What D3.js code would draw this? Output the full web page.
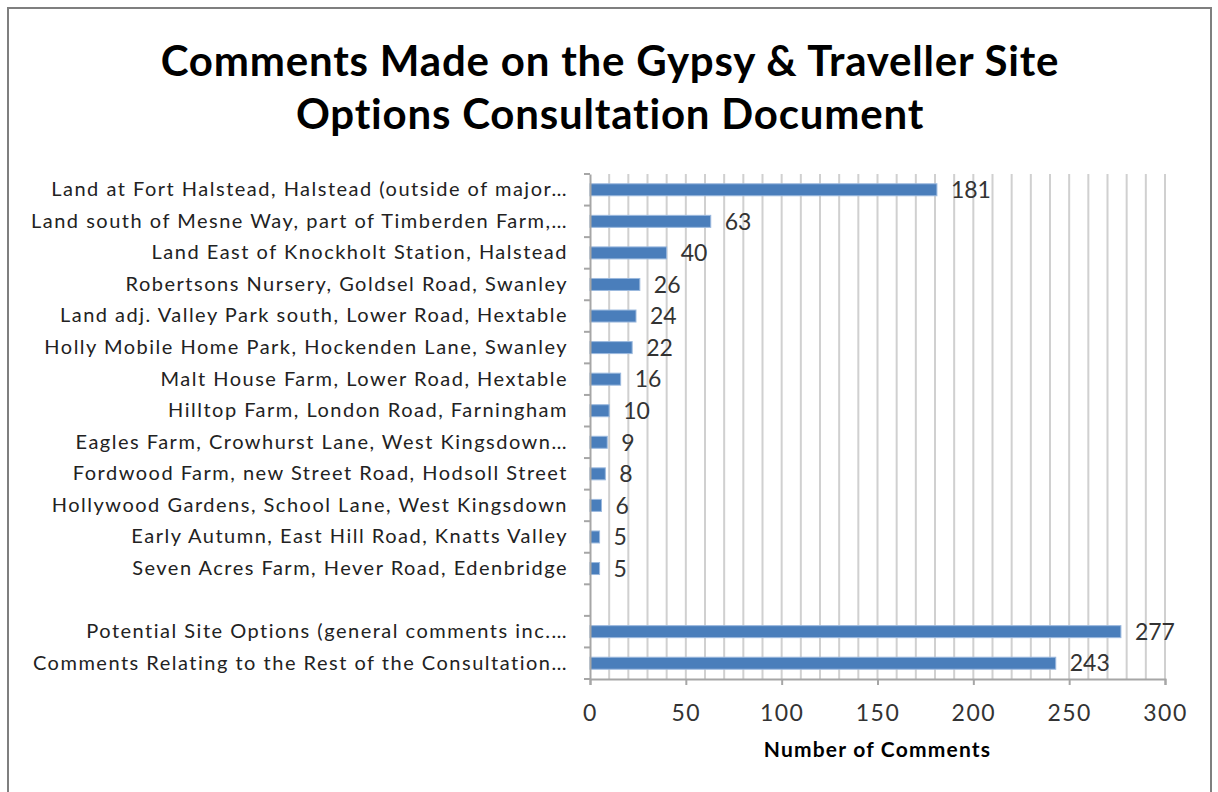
<!DOCTYPE html>
<html><head><meta charset="utf-8">
<script src="https://cdn.jsdelivr.net/npm/d3@7"></script>
<style>html,body{margin:0;padding:0;background:#fff;}svg{display:block;}</style>
</head><body>
<svg id="chart" width="1218" height="792"></svg>
<script>
const categories = [
  "Land at Fort Halstead, Halstead (outside of major…",
  "Land south of Mesne Way, part of Timberden Farm,…",
  "Land East of Knockholt Station, Halstead",
  "Robertsons Nursery, Goldsel Road, Swanley",
  "Land adj. Valley Park south, Lower Road, Hextable",
  "Holly Mobile Home Park, Hockenden Lane, Swanley",
  "Malt House Farm, Lower Road, Hextable",
  "Hilltop Farm, London Road, Farningham",
  "Eagles Farm, Crowhurst Lane, West Kingsdown…",
  "Fordwood Farm, new Street Road, Hodsoll Street",
  "Hollywood Gardens, School Lane, West Kingsdown",
  "Early Autumn, East Hill Road, Knatts Valley",
  "Seven Acres Farm, Hever Road, Edenbridge",
  "",
  "Potential Site Options (general comments inc.…",
  "Comments Relating to the Rest of the Consultation…"
];
const values = [181, 63, 40, 26, 24, 22, 16, 10, 9, 8, 6, 5, 5, null, 277, 243];
const xTicks = [0, 50, 100, 150, 200, 250, 300];
const titleLines = ["Comments Made on the Gypsy & Traveller Site", "Options Consultation Document"];
const xAxisTitle = "Number of Comments";

(function () {
const svg = d3.select("#chart");
const font = "Lato, 'Open Sans', sans-serif";

// outer border
svg.append("rect").attr("x", 8).attr("y", 8).attr("width", 1203).attr("height", 800)
  .attr("fill", "#fff").attr("stroke", "#7f7f7f").attr("stroke-width", 2);

const pLeft = 590, pRight = 1165, pTop = 174, pBottom = 679;
const x = d3.scaleLinear().domain([0, 300]).range([pLeft, pRight]);
const keys = categories.map((c, i) => i);
const y = d3.scaleBand().domain(keys).range([pTop, pBottom]).paddingInner(0.62).paddingOuter(0.31);

// title
svg.append("g").selectAll("text").data(titleLines).join("text")
  .attr("x", 610).attr("y", (d, i) => 76 + i * 53)
  .attr("text-anchor", "middle").attr("font-family", font).attr("font-weight", "bold")
  .attr("font-size", 42).attr("letter-spacing", 0.8).attr("fill", "#000").text(d => d);

// gridlines every 10
const grid = d3.range(10, 301, 10);
svg.append("g").selectAll("line").data(grid).join("line")
  .attr("x1", d => x(d)).attr("x2", d => x(d)).attr("y1", pTop).attr("y2", pBottom)
  .attr("stroke", "#d0d0d0").attr("stroke-width", 2);

// bars
const data = keys.filter(i => values[i] !== null);
svg.append("g").selectAll("rect").data(data).join("rect")
  .attr("x", x(0)).attr("y", i => y(i)).attr("width", i => x(values[i]) - x(0))
  .attr("height", y.bandwidth()).attr("fill", "#4a7ebb")
  .attr("stroke", "#9bb9de").attr("stroke-width", 1);

// value labels
svg.append("g").selectAll("text").data(data).join("text")
  .attr("x", i => x(values[i]) + 14).attr("y", i => y(i) + y.bandwidth() / 2)
  .attr("dy", "0.36em").attr("font-family", font).attr("font-size", 23)
  .attr("fill", "#333").text(i => values[i]);

// y axis
const yAxis = d3.axisLeft(y).tickSize(0).tickPadding(22).tickFormat(i => categories[i]);
const gy = svg.append("g").attr("transform", `translate(${pLeft},0)`).call(yAxis);
gy.select(".domain").attr("stroke", "#a6a6a6").attr("stroke-width", 2);
gy.selectAll("text").attr("font-family", font).attr("font-size", 20)
  .attr("letter-spacing", 1.5).attr("fill", "#222");
// category boundary tick marks
const bounds = d3.range(0, categories.length + 1).map(k => pTop + k * (pBottom - pTop) / categories.length);
gy.append("g").selectAll("line").data(bounds).join("line")
  .attr("x1", -6).attr("x2", 0).attr("y1", d => d).attr("y2", d => d)
  .attr("stroke", "#a6a6a6").attr("stroke-width", 2);

// x axis
const xAxis = d3.axisBottom(x).tickValues(xTicks).tickSize(6).tickPadding(20);
const gx = svg.append("g").attr("transform", `translate(0,${pBottom})`).call(xAxis);
gx.select(".domain").attr("stroke", "#a6a6a6").attr("stroke-width", 2);
gx.selectAll(".tick line").attr("stroke", "#a6a6a6").attr("stroke-width", 2);
gx.selectAll("text").attr("font-family", font).attr("font-size", 23)
  .attr("letter-spacing", 1.5).attr("fill", "#333");

// x axis title
svg.append("text").attr("x", (pLeft + pRight) / 2).attr("y", 757)
  .attr("text-anchor", "middle").attr("font-family", font).attr("font-weight", "bold")
  .attr("font-size", 21).attr("letter-spacing", 1.2).attr("fill", "#000").text(xAxisTitle);
})();
</script>
</body></html>
